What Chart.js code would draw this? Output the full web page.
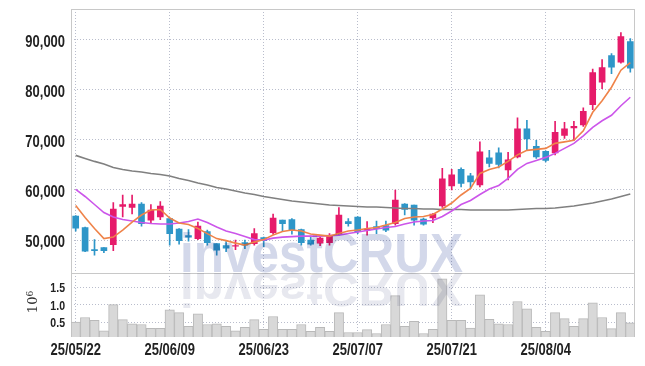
<!DOCTYPE html>
<html>
<head>
<meta charset="utf-8">
<style>
  html, body { margin: 0; padding: 0; background: #fff; }
  #wrap { position: relative; width: 645px; height: 366px; }
</style>
</head>
<body>
<div id="wrap"><canvas id="myChart"></canvas></div>
<script src="https://cdn.jsdelivr.net/npm/chart.js"></script>
<script>
  // trading days (YY/MM/DD)
  const dates = [
    "25/05/22", "25/05/23", "25/05/26", "25/05/27", "25/05/28", "25/05/29", "25/05/30", "25/06/02", "25/06/04", "25/06/05",
    "25/06/09", "25/06/10", "25/06/11", "25/06/12", "25/06/13", "25/06/16", "25/06/17", "25/06/18", "25/06/19", "25/06/20",
    "25/06/23", "25/06/24", "25/06/25", "25/06/26", "25/06/27", "25/06/30", "25/07/01", "25/07/02", "25/07/03", "25/07/04",
    "25/07/07", "25/07/08", "25/07/09", "25/07/10", "25/07/11", "25/07/14", "25/07/15", "25/07/16", "25/07/17", "25/07/18",
    "25/07/21", "25/07/22", "25/07/23", "25/07/24", "25/07/25", "25/07/28", "25/07/29", "25/07/30", "25/07/31", "25/08/01",
    "25/08/04", "25/08/05", "25/08/06", "25/08/07", "25/08/08", "25/08/11", "25/08/12", "25/08/13", "25/08/14", "25/08/18"
  ];
  const opens = [
    54800, 52500, 48100, 48500, 49100, 56700, 56500, 57200, 54000, 54600,
    54300, 52200, 50900, 50300, 51700, 49300, 48900, 48800, 49500, 49300,
    50500, 51500, 54000, 54100, 52100, 50000, 49400, 49500, 51300, 53700,
    54600, 52000, 52700, 52900, 53300, 57200, 57000, 54200, 54400, 56800,
    60800, 64100, 62800, 61000, 66400, 67400, 64000, 66600, 72200, 68700,
    67700, 67400, 70900, 72400, 73000, 77000, 81500, 86800, 85500, 89600
  ];
  const highs = [
    54900, 52600, 50100, 48500, 57500, 59000, 59000, 57500, 57100, 57700,
    54400, 52300, 52100, 53600, 52000, 49300, 49700, 50000, 50000, 52300,
    50600, 55200, 54000, 54300, 52200, 50800, 50600, 51300, 56500, 54300,
    54700, 53700, 53800, 53800, 60000, 57300, 57000, 54400, 55300, 64300,
    64100, 64400, 63300, 69600, 67900, 68400, 67500, 74400, 73900, 69900,
    67800, 73700, 73500, 73700, 76400, 84100, 86000, 87200, 91400, 90200
  ];
  const lows = [
    51800, 47700, 47000, 47500, 47900, 54600, 55200, 52800, 53500, 54100,
    49000, 49200, 49800, 50100, 49000, 47000, 47700, 48100, 48300, 49000,
    48700, 51200, 51700, 51200, 49000, 49000, 48900, 49000, 51000, 52800,
    51300, 51000, 51300, 51700, 53000, 55000, 53000, 53000, 53500, 56500,
    60000, 60600, 60300, 60600, 64600, 64400, 62000, 66400, 67900, 66300,
    65600, 67000, 70300, 69900, 72700, 76000, 80200, 83200, 85300, 83500
  ];
  const closes = [
    52400, 47800, 47900, 47900, 56200, 57100, 57200, 53300, 56000, 56800,
    51300, 49900, 50600, 52800, 49500, 48000, 48400, 48900, 49000, 51300,
    49900, 54400, 53300, 52100, 49500, 49200, 50400, 50800, 55000, 53300,
    51700, 52200, 52300, 52000, 58000, 56100, 54000, 53200, 55200, 62200,
    63000, 61300, 61600, 67600, 65300, 65100, 66000, 72200, 70200, 66600,
    65900, 71500, 72200, 72700, 75700, 83400, 84400, 84500, 90600, 84300
  ];
  // volume, millions of shares
  const volumes = [
    0.50, 0.63, 0.55, 0.25, 1.00, 0.57, 0.45, 0.43, 0.32, 0.32,
    0.85, 0.77, 0.38, 0.74, 0.43, 0.45, 0.38, 0.25, 0.35, 0.57,
    0.29, 0.66, 0.29, 0.29, 0.43, 0.23, 0.35, 0.23, 0.77, 0.20,
    0.20, 0.28, 0.17, 0.43, 1.26, 0.38, 0.52, 0.17, 0.29, 1.74,
    0.55, 0.55, 0.33, 1.28, 0.58, 0.45, 0.43, 1.09, 0.88, 0.35,
    0.23, 0.77, 0.60, 0.38, 0.60, 1.05, 0.63, 0.31, 0.77, 0.48
  ];
  const ma5 = [
    56900, 54500, 52300, 50300, 50600, 52000, 53600, 55000, 56000, 56100,
    54400, 53400, 53100, 52300, 51300, 50300, 49900, 49400, 49000, 49600,
    50100, 51000, 51700, 52000, 51800, 51200, 51000, 50800, 51300, 51800,
    52000, 52300, 52500, 53000, 53500, 54300, 54600, 54700, 55100, 56200,
    57400, 59000, 60300, 63300, 64100, 64600, 65700, 67000, 67900, 68100,
    68300, 69300, 69600, 69900, 71800, 75500, 77800, 80500, 83900, 85400
  ];
  const ma20 = [
    60100, 58700, 57100, 55500, 54600, 54100, 53800, 53500, 53300, 53200,
    53200, 53400, 53700, 54200, 53500, 52600, 51800, 51300, 50700, 50100,
    50000, 50400, 50600, 50700, 50800, 50800, 50800, 50900, 51000, 51300,
    51600, 51900, 52200, 52500, 52700, 53200, 53600, 53800, 53900, 54700,
    55800, 57100, 57900, 59100, 60200, 60900, 62300, 64100, 65300, 65900,
    66500, 67300, 68300, 69300, 70800, 72500, 73800, 74900, 76800, 78500
  ];
  const ma60 = [
    66900, 66300, 65700, 65200, 64500, 64100, 63800, 63600, 63300, 63100,
    62800, 62300, 61900, 61400, 61000, 60500, 60200, 59800, 59400, 59100,
    58700, 58400, 58100, 57800, 57600, 57400, 57200, 57000, 56900, 56800,
    56700, 56600, 56600, 56500, 56400, 56300, 56300, 56200, 56200, 56100,
    56100, 56100, 56000, 56000, 56000, 56000, 56000, 56100, 56200, 56300,
    56300, 56400, 56600, 56800, 57100, 57400, 57800, 58200, 58700, 59200
  ];
  const priceTicks = [50000, 60000, 70000, 80000, 90000];
  const volumeTicks = [0.5, 1.0, 1.5];

  const upColor = "#e61b6a";
  const downColor = "#2e96c8";
  const gridColor = "#b9bdcc";
  const candleColors = opens.map((o, i) => (closes[i] >= o ? upColor : downColor));

  const framePlugin = {
    id: "frame",
    beforeDatasetsDraw: (chart) => {
      const { ctx, chartArea: a, scales } = chart;
      ctx.save();
      ctx.strokeStyle = "#c8c8c8";
      ctx.lineWidth = 1;
      ctx.strokeRect(Math.round(a.left) + 0.5, Math.round(a.top) + 0.5, Math.round(a.right - a.left) - 1, Math.round(a.bottom - a.top) - 1);
      const yb = Math.round(scales.y.bottom) + 0.5;
      ctx.beginPath();
      ctx.moveTo(a.left, yb);
      ctx.lineTo(a.right, yb);
      ctx.stroke();
      // 10^6 unit label, rotated
      ctx.translate(37, 302);
      ctx.rotate(-Math.PI / 2);
      ctx.fillStyle = "#333";
      ctx.textBaseline = "alphabetic";
      ctx.font = "13px 'DejaVu Serif', serif";
      const w1 = ctx.measureText("10").width;
      ctx.font = "9px 'DejaVu Serif', serif";
      const w2 = ctx.measureText("6").width;
      const x0 = -(w1 + w2) / 2;
      ctx.font = "13px 'DejaVu Serif', serif";
      ctx.fillText("10", x0, 0);
      ctx.font = "9px 'DejaVu Serif', serif";
      ctx.fillText("6", x0 + w1, -4.5);
      ctx.restore();
    },
  };

  const watermarkPlugin = {
    id: "watermark",
    afterDatasetsDraw: (chart) => {
      const { ctx } = chart;
      const text = "investCRUX";
      ctx.save();
      ctx.globalCompositeOperation = "multiply";
      ctx.font = "bold 55px 'Liberation Sans', Arial, sans-serif";
      ctx.textBaseline = "alphabetic";
      const sx = 283 / ctx.measureText(text).width;
      ctx.save();
      ctx.translate(180, 272);
      ctx.scale(sx, 1);
      ctx.fillStyle = "#d3d8ea";
      ctx.fillText(text, 0, 0);
      ctx.restore();
      ctx.translate(180, 273);
      ctx.scale(sx, -0.87);
      ctx.fillStyle = "#e7e8ef";
      ctx.fillText(text, 0, 0);
      ctx.restore();
    },
  };

  // narrow bold tick labels, drawn at the scales' own pixel positions
  const squeeze = 0.81;
  const labelPlugin = {
    id: "axisLabels",
    afterDraw: (chart) => {
      const { ctx, scales } = chart;
      const draw = (text, x, baseY, align, size) => {
        ctx.save();
        ctx.font = "bold " + size + "px 'Liberation Sans', Arial, sans-serif";
        ctx.fillStyle = "#222";
        ctx.textAlign = "left";
        ctx.textBaseline = "alphabetic";
        const w = ctx.measureText(text).width * squeeze;
        ctx.translate(align === "right" ? x - w : x - w / 2, baseY);
        ctx.scale(squeeze, 1);
        ctx.fillText(text, 0, 0);
        ctx.restore();
      };
      scales.y.ticks.forEach((t) => draw(t.value.toLocaleString("en-US"), 65, scales.y.getPixelForValue(t.value) + 7, "right", 16));
      scales.yv.ticks.forEach((t) => draw(t.value.toFixed(1), 65, scales.yv.getPixelForValue(t.value) + 5, "right", 13));
      dates.forEach((d, i) => {
        if (i % 10 === 0) draw(d, scales.x.getPixelForValue(i), 355, "center", 16);
      });
    },
  };

  const ctx = document.getElementById("myChart");
  new Chart(ctx, {
    type: "bar",
    data: {
      labels: dates,
      datasets: [
        { type: "line", label: "MA5", data: ma5, yAxisID: "y", borderColor: "#ef8349", borderWidth: 1.6, pointRadius: 0, order: 1 },
        { type: "line", label: "MA20", data: ma20, yAxisID: "y", borderColor: "#cc56ea", borderWidth: 1.6, pointRadius: 0, order: 2 },
        { type: "line", label: "MA60", data: ma60, yAxisID: "y", borderColor: "#808080", borderWidth: 1.6, pointRadius: 0, order: 3 },
        {
          label: "body",
          data: opens.map((o, i) => [o, closes[i]]),
          yAxisID: "y",
          backgroundColor: candleColors,
          barThickness: 6,
          grouped: false,
          order: 4,
        },
        {
          label: "wick",
          data: lows.map((l, i) => [l, highs[i]]),
          yAxisID: "y",
          backgroundColor: candleColors,
          barThickness: 1,
          grouped: false,
          order: 5,
        },
        {
          label: "volume",
          data: volumes,
          yAxisID: "yv",
          backgroundColor: "#d8d8d8",
          borderColor: "#b9b9b9",
          borderWidth: 1,
          barPercentage: 1,
          categoryPercentage: 1,
          grouped: false,
          order: 6,
        },
      ],
    },
    options: {
      responsive: true,
      maintainAspectRatio: false,
      animation: false,
      layout: { padding: { top: 9, right: 10, left: 0, bottom: 0 } },
      plugins: { legend: { display: false }, tooltip: { enabled: false } },
      scales: {
        x: {
          grid: {
            color: (c) => (c.index % 10 === 0 ? gridColor : "rgba(0,0,0,0)"),
            offset: false,
            drawTicks: false,
          },
          border: { display: false, dash: [1, 2] },
          ticks: { display: false, autoSkip: false },
          afterFit: (s) => { s.height = 29; },
        },
        yv: {
          position: "left",
          stack: "panes",
          stackWeight: 1,
          min: 0.07,
          max: 1.92,
          grid: { color: gridColor, drawTicks: false },
          border: { display: false, dash: [1, 2] },
          ticks: { display: false },
          afterBuildTicks: (s) => { s.ticks = volumeTicks.map((v) => ({ value: v })); },
          afterFit: (s) => { s.width = 71; },
        },
        y: {
          position: "left",
          stack: "panes",
          stackWeight: 4.1,
          min: 43500,
          max: 96100,
          grid: { color: gridColor, drawTicks: false },
          border: { display: false, dash: [1, 2] },
          ticks: { display: false },
          afterBuildTicks: (s) => { s.ticks = priceTicks.map((v) => ({ value: v })); },
          afterFit: (s) => { s.width = 71; },
        },
      },
    },
    plugins: [framePlugin, watermarkPlugin, labelPlugin],
  });
</script>
</body>
</html>
